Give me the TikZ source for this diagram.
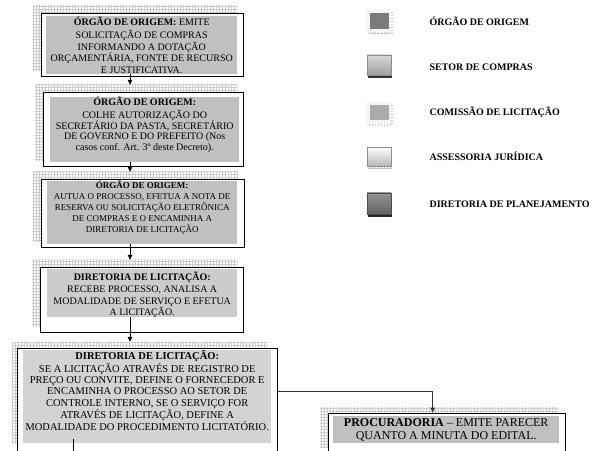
\documentclass[tikz,border=0pt]{standalone}
\usepackage{fontspec}
\setmainfont{Liberation Serif}
\usetikzlibrary{%
	calc,%
	fit,%
	backgrounds,%
	patterns,%
	arrows.meta%
}
\definecolor{graya}{RGB}{192,192,192}
\definecolor{grayb}{RGB}{204,204,204}
\definecolor{grayc}{RGB}{211,211,211}
% text of a gray box: [top pad]{width}{height}{text}
\newcommand{\boxtext}[4][0pt]{\parbox[c][#3][t]{#2}{\centering\vspace*{#1}\strut #4}}
% grid shadow and frame behind a gray box: node, frame nw, frame se, grid nw, grid se
\newcommand{\gridframe}[5]{%
	\node[gridbox,fit={($(#1.north west)+#4$) ($(#1.south east)+#5$)}] (#1g) {};
	\node[boxframe,fit={($(#1.north west)+#2$) ($(#1.south east)+#3$)}] (#1f) {};
}
\tikzset{
	graybox/.style={inner sep=0pt,anchor=north west,text=black},
	boxframe/.style={draw=black,line width=0.8pt,fill=white,inner sep=0pt},
	gridbox/.style={inner sep=0pt,pattern=grid,pattern color=gray!40},
	flow/.style={line width=0.8pt,-{Triangle[length=5pt,width=4.5pt]}},
	legendtext/.style={anchor=base west,font=\bfseries\fontsize{10}{12}\selectfont}
}

\begin{document}
\begin{tikzpicture}[x=1pt,y=1pt]
			\clip (0,0) rectangle (607,450);
			%
			\node[graybox,fill=graya,font=\fontsize{10}{11.5}\selectfont] (o1) at (46,434)
			{\boxtext[1pt]{191pt}{58pt}{\textbf{ÓRGÃO DE ORIGEM:} EMITE\\ SOLICITAÇÃO DE COMPRAS\\
			INFORMANDO A DOTAÇÃO\\ ORÇAMENTÁRIA, FONTE DE RECURSO\\ E JUSTIFICATIVA.}};
			\node[graybox,fill=graya,font=\fontsize{10}{10.8}\selectfont] (o2) at (50,353)
			{\boxtext{189pt}{65pt}{\textbf{ÓRGÃO DE ORIGEM:}\\ COLHE AUTORIZAÇÃO DO\\
			SECRETÁRIO DA PASTA, SECRETÁRIO\\ DE GOVERNO E DO PREFEITO (Nos\\ casos conf. Art. 3º deste Decreto).}};
			\node[graybox,fill=graya,font=\fontsize{9}{11}\selectfont] (o3) at (47,269)
			{\boxtext{190pt}{63pt}{\textbf{ÓRGÃO DE ORIGEM:}\\ AUTUA O PROCESSO, EFETUA A NOTA DE\\
			RESERVA OU SOLICITAÇÃO ELETRÔNICA\\ DE COMPRAS E O ENCAMINHA A\\ DIRETORIA DE LICITAÇÃO}};
			\node[graybox,fill=grayb,font=\fontsize{10}{11.7}\selectfont] (dl1) at (47,181)
			{\boxtext[3pt]{190pt}{48pt}{\textbf{DIRETORIA DE LICITAÇÃO:}\\ RECEBE PROCESSO, ANALISA A\\
			MODALIDADE DE SERVIÇO E EFETUA\\ A LICITAÇÃO.}};
			\node[graybox,fill=grayc,font=\fontsize{10.5}{11.2}\selectfont] (dl2) at (23,100)
			{\boxtext{248pt}{93pt}{\textbf{DIRETORIA DE LICITAÇÃO:}\\ SE A LICITAÇÃO ATRAVÉS DE REGISTRO DE\\
			PREÇO OU CONVITE, DEFINE O FORNECEDOR E\\ ENCAMINHA O PROCESSO AO SETOR DE\\
			CONTROLE INTERNO, SE O SERVIÇO FOR\\ ATRAVÉS DE LICITAÇÃO, DEFINE A\\
			MODALIDADE DO PROCEDIMENTO LICITATÓRIO.}};
			\node[graybox,fill=graya,font=\fontsize{12}{13.4}\selectfont] (proc) at (333,34)
			{\boxtext[1pt]{226pt}{27pt}{\textbf{PROCURADORIA} – EMITE PARECER\\ QUANTO A MINUTA DO EDITAL.}};
			%
			\begin{scope}[on background layer]
				\gridframe{o1}{(-5,3)}{(6,-2)}{(-13,10)}{(0,4)}
				\gridframe{o2}{(-7,5)}{(4,-4)}{(-15,12)}{(-2,2)}
				\gridframe{o3}{(-6,2)}{(7,-3)}{(-14,9)}{(1,3)}
				\gridframe{dl1}{(-7,2)}{(6,-15)}{(-15,9)}{(0,-9)}
				\gridframe{dl2}{(-6,2)}{(6,-30)}{(-11,8)}{(-4,0)}
				\gridframe{proc}{(-5,3)}{(6,-30)}{(-13,9)}{(-1,-4)}
			\end{scope}
			%
			\coordinate (ax) at (130,0);
			\coordinate (dl2out) at (73,-10);
			\draw[flow] (o1.south -| ax) -- (o2g.north -| ax);
			\draw[flow] (o2.south -| ax) -- (o3g.north -| ax);
			\draw[flow] (o3.south -| ax) -- (dl1g.north -| ax);
			\draw[flow] (dl1.south -| ax) -- (dl2g.north -| ax);
			\draw[flow,black!80] ([yshift=-44pt]dl2f.north east) -| ([xshift=-14pt]procf.north);
			\draw[line width=0.8pt] (dl2.south -| dl2out) ++(0,4) -- (dl2out);
			%
			\fill[pattern=grid,pattern color=gray!40] (368,416) rectangle (393,439);
			\fill[gray!8] (366,418) rectangle (391,441);
			\fill[black!52] (370,421) rectangle (389,437);
			\fill[black!80] (368,372) rectangle (392,374.5);
			\draw[black!45,top color=black!15,bottom color=black!38] (367,374.5) rectangle (391,395);
			\fill[pattern=grid,pattern color=gray!40] (368,324) rectangle (393,346);
			\fill[gray!8] (366,326) rectangle (391,348);
			\fill[black!33] (370,330) rectangle (389,345);
			\fill[pattern=grid,pattern color=gray!50] (368,281) rectangle (392,285);
			\draw[black!45,top color=white,bottom color=black!28] (367,284) rectangle (391,303);
			\fill[black!85] (368,233) rectangle (392,235.5);
			\draw[black!70,top color=black!42,bottom color=black!62] (367,235.5) rectangle (391,257);
			\node[legendtext] (lorg) at (426,424) {ÓRGÃO DE ORIGEM};
			\node[legendtext] (lset) at (426,379) {SETOR DE COMPRAS};
			\node[legendtext] (lcom) at (426,334) {COMISSÃO DE LICITAÇÃO};
			\node[legendtext] (lass) at (426,289) {ASSESSORIA JURÍDICA};
			\node[legendtext] (ldir) at (426,242) {DIRETORIA DE PLANEJAMENTO};
		\end{tikzpicture}
\end{document}
